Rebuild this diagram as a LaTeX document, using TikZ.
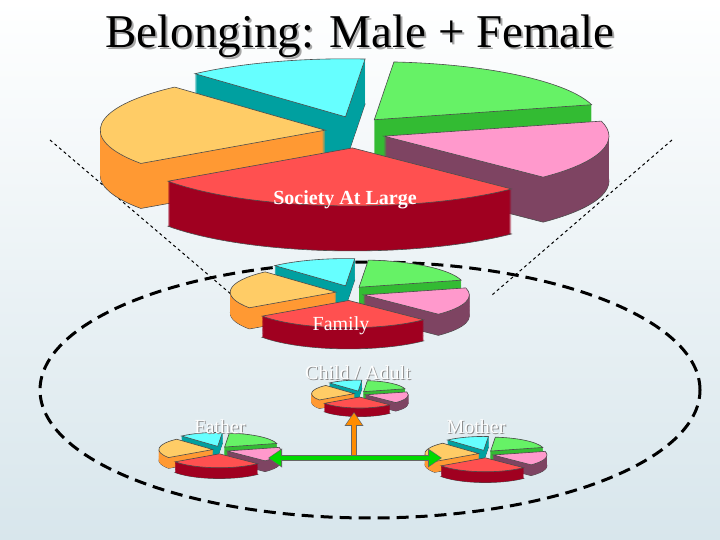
\documentclass[tikz,border=0pt]{standalone}
\usepackage{fontspec}
\setmainfont{Liberation Serif}
\usetikzlibrary{arrows.meta}
\definecolor{cyT}{HTML}{66FFFF}\definecolor{cyS}{HTML}{00A0A0}
\definecolor{grT}{HTML}{66F266}\definecolor{grS}{HTML}{33BB33}
\definecolor{pkT}{HTML}{FF99CC}\definecolor{pkS}{HTML}{7E4462}
\definecolor{rdT}{HTML}{FF5050}\definecolor{rdS}{HTML}{A00020}
\definecolor{orT}{HTML}{FFCC66}\definecolor{orS}{HTML}{FF9933}
\newcommand\pslice[4]{%
 \pgfmathsetmacro\mm{(#1+#2)/2}%
 \pgfmathsetmacro\ex{30*cos(\mm)}%
 \pgfmathsetmacro\ey{16*sin(\mm)}%
 \filldraw[fill=#4,draw=black!70,line width=0.6] (\ex,\ey-45) -- ++(#1:225 and 58) arc[start angle=#1,end angle=#2,x radius=225,y radius=58] -- cycle;
 \foreach \t in {1,...,44}{\fill[#4] (\ex,\ey-\t) -- ++(#1:225 and 58) arc[start angle=#1,end angle=#2,x radius=225,y radius=58] -- cycle;}
 \filldraw[fill=#3,draw=black!70,line width=0.6] (\ex,\ey) -- ++(#1:225 and 58) arc[start angle=#1,end angle=#2,x radius=225,y radius=58] -- cycle;}
\newcommand\mypie[3]{\begin{scope}[shift={(#1,#2)},scale=#3]
 \pslice{85}{132}{cyT}{cyS}\pslice{15}{85}{grT}{grS}
 \pslice{132}{215}{orT}{orS}\pslice{-45}{15}{pkT}{pkS}
 \pslice{215}{315}{rdT}{rdS}\end{scope}}
\tikzset{lbl/.style={text=white,font=\fontsize{20}{22}\selectfont},
 shd/.style={text=black!45,font=\fontsize{20}{22}\selectfont}}
\begin{document}
\begin{tikzpicture}[x=1pt,y=1pt]
\shade[top color=white,bottom color={rgb,255:red,216;green,230;blue,236}] (0,0) rectangle (720,540);
\useasboundingbox (0,0) rectangle (720,540);
\node[font=\fontsize{47}{50}\selectfont,text=black!35] at (362,502) {Belonging: Male + Female};
\node (title)[font=\fontsize{47}{50}\selectfont] at (360,504) {Belonging: Male + Female};
\coordinate (l1) at (50,400); \coordinate (l2) at (232,245);
\coordinate (r1) at (672,400); \coordinate (r2) at (492,245);
\draw[dashed,line width=1] (l1) -- (l2);
\draw[dashed,line width=1] (r1) -- (r2);
\draw[dashed,line width=3,dash pattern=on 12pt off 7pt] (370,150) ellipse[x radius=330,y radius=128];
\mypie{355}{408}{1}
\node (soc)[text=white,font=\bfseries\fontsize{20}{22}\selectfont] at (345,340) {Society At Large};
\mypie{350}{247}{0.47}
\node (fam)[lbl] at (341,214) {Family};
\mypie{360}{146}{0.19}
\node[shd] at (359,166) {Child / Adult};
\node (chi)[lbl] at (358,167) {Child / Adult};
\mypie{220}{90}{0.24}
\node[shd] at (221,112) {Father};
\node (fat)[lbl] at (220,113) {Father};
\mypie{486}{86}{0.24}
\node[shd] at (477,112) {Mother};
\node (mot)[lbl] at (476,113) {Mother};
\coordinate (ob) at (354,85); \coordinate (ot) at (354,128);
\coordinate (gl) at (268,82); \coordinate (gr) at (442,82);
\draw[line width=6,black!60,{Triangle[length=14,width=18]}-{Triangle[length=14,width=18]}] (gl) -- (gr);
\draw[line width=4.5,green!75!black!60!green,{Triangle[length=12,width=15]}-{Triangle[length=12,width=15]},shorten <=1,shorten >=1] (gl) -- (gr);
\draw[line width=6,black!60,-{Triangle[length=14,width=18]}] (ob) -- (ot);
\draw[line width=4.5,orange!90!yellow,-{Triangle[length=12,width=15]},shorten >=1] (ob) -- (ot);
\end{tikzpicture}
\end{document}
